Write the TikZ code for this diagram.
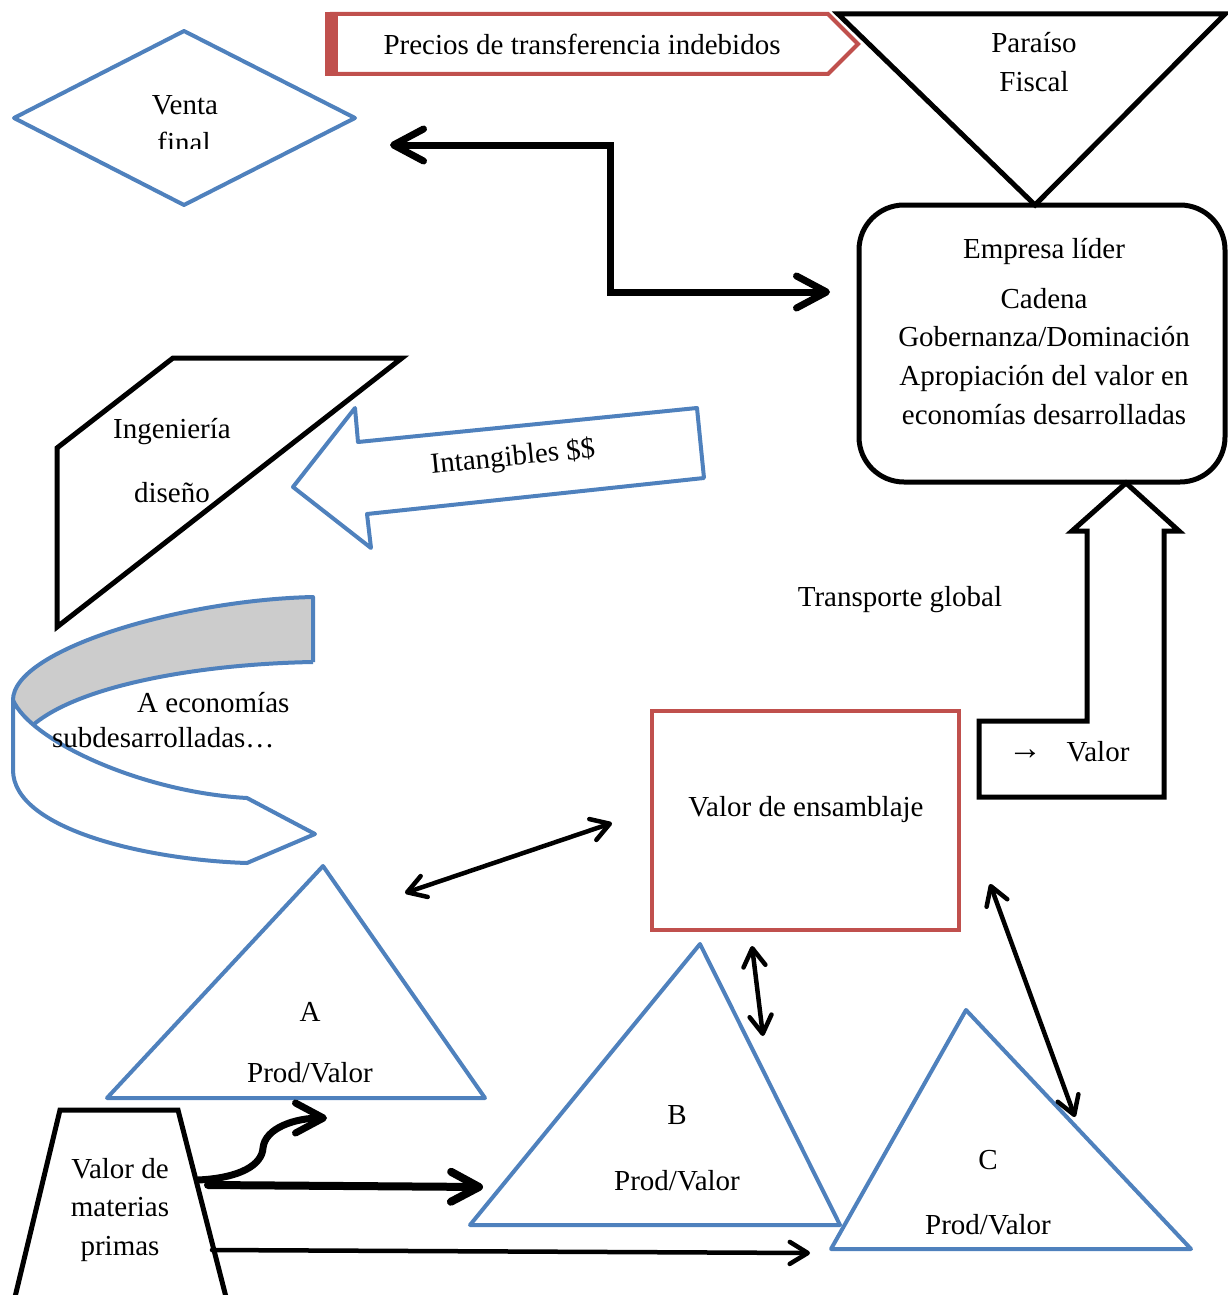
\documentclass[tikz,border=0pt]{standalone}
\usepackage{fontspec}
\setmainfont{Liberation Serif}
\usetikzlibrary{arrows.meta}
\definecolor{ablue}{HTML}{4F81BD}
\definecolor{ared}{HTML}{C0504D}
\definecolor{agrey}{HTML}{CCCCCC}
\tikzset{
  bigbarb/.tip={Straight Barb[length=30pt,width=32pt,round]},
  midbarb/.tip={Straight Barb[length=28pt,width=30pt,round]},
  smallbarb/.tip={Straight Barb[length=18pt,width=22pt,round]},
  tinybarb/.tip={Straight Barb[length=18pt,width=22pt,round]},
}
\begin{document}
\begin{tikzpicture}[x=1pt,y=-1pt,
  txt/.style={font=\fontsize{29}{35}\selectfont,anchor=base,inner sep=0pt},
  bshape/.style={draw=ablue,line width=4pt,line join=round},
  kshape/.style={draw=black,line width=5pt,line join=miter},
  rshape/.style={draw=ared,line width=4pt,line join=miter},
  thickconn/.style={draw=black,line width=7pt,line join=miter,line cap=round},
  thinconn/.style={draw=black,line width=4.5pt,line cap=round},
]
\useasboundingbox (0,0) rectangle (1227,1295);

% ---------- Venta final (diamond)
\draw[bshape] (14,118) -- (184,31) -- (355,118) -- (184,205) -- cycle;
\node[txt] (venta) at (185,114) {Venta};
\begin{scope}
  \clip (0,0) rectangle (400,148);
  \node[txt] (final) at (184,152) {final};
\end{scope}

% ---------- Precios de transferencia
\draw[rshape] (332,14) -- (828,14) -- (858,44) -- (828,74) -- (332,74) -- cycle;
\fill[ared] (325,12) rectangle (338,76);
\node[txt] (precios) at (582,55) {Precios de transferencia indebidos};

% ---------- Paraiso fiscal
\draw[kshape] (838,14) -- (1225,14) -- (1035,205) -- cycle;
\node[txt] (paraiso) at (1034,53) {Paraíso};
\node[txt] (fiscal) at (1034,92) {Fiscal};

% ---------- Empresa lider
\draw[kshape,rounded corners=45pt] (859,205) rectangle (1225,482);
\node[txt] (empresa) at (1044,258) {Empresa líder};
\node[txt] (cadena) at (1044,308) {Cadena};
\node[txt] (gober) at (1044,346) {Gobernanza/Dominación};
\node[txt] (aprop) at (1044,385) {Apropiación del valor en};
\node[txt] (econ) at (1044,424) {economías desarrolladas};

% ---------- elbow double arrow
\coordinate (elL) at (390,145);
\coordinate (elR) at (830,292);
\draw[thickconn,bigbarb-bigbarb] (elL) -- (610,145) -- (610,292) -- (elR);

% ---------- Ingenieria diseno
\draw[kshape] (57,448) -- (173,358) -- (402,358) -- (57,627) -- cycle;
\node[txt] (ing) at (172,438) {Ingeniería};
\node[txt] (dis) at (172,502) {diseño};

% ---------- Intangibles arrow
\draw[bshape] (293,487) -- (355,408) -- (358,442) -- (697,408) -- (704,478) -- (367,514) -- (371,548) -- cycle;
\node[txt,anchor=center,rotate=5.7] (intang) at (513,458) {Intangibles \$\$};

% ---------- curved ribbon arrow
\fill[agrey] (313,597) .. controls (180,600) and (13,650) .. (13,700)
  -- (33,725) .. controls (80,685) and (200,664) .. (313,662) -- cycle;
\fill[white] (13,700) .. controls (30,740) and (140,792) .. (247,798)
  -- (315,834) -- (247,863) .. controls (150,860) and (13,830) .. (13,770) -- cycle;
\draw[bshape] (313,662) -- (313,597) .. controls (180,600) and (13,650) .. (13,700)
  -- (13,770) .. controls (13,830) and (150,860) .. (247,863) -- (315,834) -- (247,798)
  .. controls (140,792) and (30,740) .. (13,700);
\draw[bshape] (33,725) .. controls (80,685) and (200,664) .. (313,662);
\node[txt,anchor=base west] (aecon) at (137,712) {A economías};
\node[txt,anchor=base west] (subd) at (52,747) {subdesarrolladas…};

% ---------- Transporte global
\node[txt] (transp) at (900,606) {Transporte global};

% ---------- bent up arrow Valor
\draw[kshape] (1126,483) -- (1179,531) -- (1164,531) -- (1164,797) -- (979,797)
  -- (979,721) -- (1087,721) -- (1087,531) -- (1072,531) -- cycle;
\node[txt] (arrowsym) at (1025,759) {\fontsize{34}{35}\selectfont →};
\node[txt] (valor) at (1098,761) {Valor};

% ---------- Valor de ensamblaje
\draw[rshape] (652,711) rectangle (959,930);
\node[txt] (ensam) at (806,816) {Valor de ensamblaje};

% ---------- triangles
\draw[bshape] (323,866) -- (485,1098) -- (107,1098) -- cycle;
\node[txt] (tA) at (310,1021) {A};
\node[txt] (pA) at (310,1082) {Prod/Valor};
\draw[bshape] (700,944) -- (840,1225) -- (470,1225) -- cycle;
\node[txt] (tB) at (677,1124) {B};
\node[txt] (pB) at (677,1190) {Prod/Valor};
\draw[bshape] (966,1010) -- (1191,1249) -- (831,1249) -- cycle;
\node[txt] (tC) at (988,1169) {C};
\node[txt] (pC) at (988,1234) {Prod/Valor};

% ---------- double arrows near assembly
\coordinate (dA1) at (405,893);
\coordinate (dA2) at (612,823);
\draw[thinconn,smallbarb-smallbarb] (dA1) -- (dA2);
\coordinate (dB1) at (752,946);
\coordinate (dB2) at (763,1036);
\draw[thinconn,smallbarb-smallbarb] (dB1) -- (dB2);
\coordinate (dC1) at (990,884);
\coordinate (dC2) at (1075,1117);
\draw[thinconn,smallbarb-smallbarb] (dC1) -- (dC2);

% ---------- Valor de materias primas
\draw[kshape] (15,1297) -- (60,1110) -- (178,1110) -- (226,1297);
\node[txt] (vm1) at (120,1178) {Valor de};
\node[txt] (vm2) at (120,1216) {materias};
\node[txt] (vm3) at (120,1255) {primas};

% ---------- arrows from materias primas
\coordinate (mpA) at (198,1180);
\coordinate (toA) at (327,1118);
\draw[thickconn,-midbarb] (mpA) .. controls (240,1178) and (262,1165) .. (263,1148)
  .. controls (265,1128) and (295,1118) .. (toA);
\coordinate (mpB) at (208,1185);
\coordinate (toB) at (483,1187);
\draw[draw=black,line width=8pt,line cap=round,-midbarb] (mpB) -- (toB);
\coordinate (mpC) at (212,1250);
\coordinate (toC) at (810,1253);
\draw[thinconn,-tinybarb] (mpC) -- (toC);
\end{tikzpicture}
\end{document}
